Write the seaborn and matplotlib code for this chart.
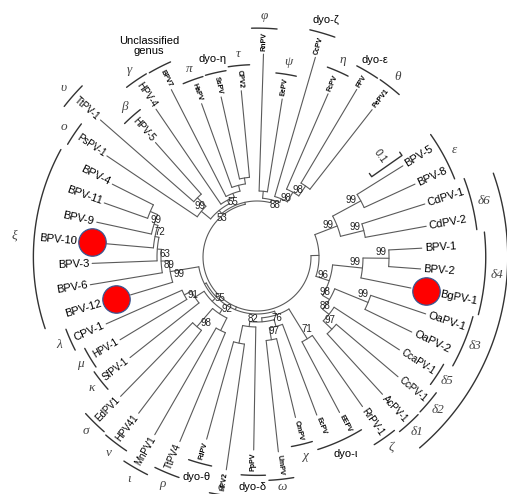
import numpy as np
import pandas as pd
import seaborn as sns
import matplotlib.pyplot as plt

# leaves in clockwise order, starting at BPV-5
leaf_names = ["BPV-5", "BPV-8", "CdPV-1", "CdPV-2", "BPV-1", "BPV-2", "BgPV-1",
              "OaPV-1", "OaPV-2", "CcaPV-1", "CcPV-1", "AcPV-1", "RrPV-1",
              "EEPV", "EcPV", "CmPV", "UmPV", "PpPV", "HPV2", "FdPV",
              "TtPV4", "MnPV1", "HPV41", "EdPV1", "SfPV-1", "HPV-1", "CPV-1",
              "BPV-12", "BPV-6", "BPV-3", "BPV-10", "BPV-9", "BPV-11", "BPV-4",
              "PsPV-1", "TtPV-1", "HPV-5", "HPV-4", "BPV7", "HaPV", "SsPV",
              "CPV2", "RnPV", "EePV", "CcPV", "FcPV", "FPV", "PePV1"]
# distance of each tip from the centre (px, 0.1 subst./site ~ 37 px)
leaf_tip = [172, 174, 176, 172, 165, 164, 157, 178, 172, 170, 185, 186, 183,
            176, 169, 165, 196, 193, 215, 189, 200, 205, 196, 195, 162, 160,
            165, 132, 169, 165, 151, 164, 162, 162, 181, 208, 153, 179, 188,
            163, 164, 167, 203, 160, 208, 178, 195, 187]
marked = ["BPV-10", "BPV-12", "BgPV-1"]

# clades: (first leaf, last leaf, node depth, bootstrap)
clades = [
    (0, 47, 54, ""),
    (0, 11, 62, ""), (0, 3, 86, "99"), (0, 1, 118, "99"), (2, 3, 110, "99"),
    (4, 11, 76, "96"), (4, 6, 106, "99"), (4, 5, 132, "99"), (7, 11, 84, "98"),
    (7, 8, 120, "99"), (9, 11, 92, "88"), (10, 11, 104, "97"),
    (12, 33, 57, ""), (12, 19, 61, ""), (12, 13, 96, "71"), (14, 19, 65, ""),
    (14, 16, 72, "76"), (15, 16, 84, "97"), (17, 19, 70, "82"), (18, 19, 88, ""),
    (20, 33, 59, ""), (20, 26, 63, "55"), (20, 23, 68, "92"), (20, 21, 82, ""),
    (22, 23, 92, "98"), (24, 26, 74, ""), (25, 26, 82, "91"),
    (27, 33, 88, "99"), (28, 33, 96, "89"), (29, 33, 100, "63"),
    (30, 33, 104, ""), (31, 33, 108, "72"), (32, 33, 116, "99"),
    (34, 47, 56, ""), (34, 41, 60, "53"), (34, 36, 72, ""), (35, 36, 84, "99"),
    (37, 41, 64, ""), (38, 41, 68, "55"), (39, 41, 74, ""), (40, 41, 80, ""),
    (42, 47, 59, ""), (42, 43, 66, ""), (44, 47, 63, "88"), (45, 47, 74, "98"),
    (46, 47, 86, "98"),
]

# genus brackets: (first leaf, last leaf, name)
genera = [(0, 1, "ε"), (2, 3, "δ6"), (4, 6, "δ4"), (7, 8, "δ3"), (9, 9, "δ5"),
          (10, 10, "δ2"), (11, 11, "δ1"), (12, 12, "ζ"), (13, 14, "dyo-ι"),
          (15, 15, "χ"), (16, 16, "ω"), (17, 17, "dyo-δ"), (18, 18, "α"),
          (19, 19, "dyo-θ"), (20, 20, "ρ"), (21, 21, "ι"), (22, 22, "ν"),
          (23, 23, "σ"), (24, 24, "κ"), (25, 25, "μ"), (26, 26, "λ"),
          (34, 34, "ο"), (35, 35, "υ"), (36, 36, "β"), (37, 37, "γ"),
          (38, 38, "Unclassified\ngenus"), (39, 39, "π"), (40, 40, "dyo-η"),
          (41, 41, "τ"), (42, 42, "φ"), (43, 43, "ψ"), (44, 44, "dyo-ζ"),
          (45, 45, "η"), (46, 46, "dyo-ε"), (47, 47, "θ")]
big_groups = [(2, 11, ""), (27, 33, "ξ")]

# label styles
large_names = {"BPV-5", "BPV-8", "CdPV-1", "CdPV-2", "BPV-1", "BPV-2", "BgPV-1",
               "OaPV-1", "OaPV-2", "CPV-1", "BPV-12", "BPV-6", "BPV-3",
               "BPV-10", "BPV-9", "BPV-11", "BPV-4"}
blob_names = {"EEPV", "EcPV", "CmPV", "UmPV", "PpPV", "HPV2", "FdPV",
              "BPV7", "HaPV", "SsPV", "CPV2", "RnPV", "EePV", "CcPV", "FcPV",
              "FPV", "PePV1"}

sns.set_theme(style="white")
plt.rcParams["font.family"] = ["Liberation Sans", "DejaVu Sans"]

W, H = 507, 494
cx, cy = 257, 257
n = len(leaf_names)
ang = 32.0 - np.arange(n) * 340.0 / (n - 1)


def xy(r, a):
    t = np.radians(a)
    return cx + r * np.cos(t), cy - r * np.sin(t)


# ---- tree topology from the leaf ranges
size = [hi - lo for lo, hi, _, _ in clades]


def smallest(lo, hi, skip=None):
    cands = [k for k, c in enumerate(clades)
             if c[0] <= lo and c[1] >= hi and k != skip]
    return min(cands, key=lambda k: size[k]) if cands else None


leaf_parent = [smallest(i, i) for i in range(n)]
clade_parent = [smallest(c[0], c[1], skip=k) for k, c in enumerate(clades)]

node_ang = {}
child_span = {}
for k in sorted(range(len(clades)), key=lambda k: size[k]):
    ch = [ang[i] for i in range(n) if leaf_parent[i] == k]
    ch += [node_ang[j] for j in range(len(clades)) if clade_parent[j] == k]
    child_span[k] = (min(ch), max(ch))
    node_ang[k] = (min(ch) + max(ch)) / 2

rows = []
seg = 0


def add_line(pts):
    global seg
    for x, y in pts:
        rows.append((seg, x, y))
    seg += 1


def arc_pts(r, a0, a1, m=40):
    return [xy(r, a) for a in np.linspace(a0, a1, m)]


for i in range(n):
    d0 = clades[leaf_parent[i]][2]
    add_line([xy(d0, ang[i]), xy(leaf_tip[i], ang[i])])
for k, c in enumerate(clades):
    a0, a1 = child_span[k]
    add_line(arc_pts(c[2], a0, a1, max(4, int((a1 - a0) * 2))))
    if clade_parent[k] is not None:
        add_line([xy(clades[clade_parent[k]][2], node_ang[k]),
                  xy(c[2], node_ang[k])])
tree_df = pd.DataFrame(rows, columns=["seg", "x", "y"])

fig = plt.figure(figsize=(W / 100, H / 100), dpi=100)
ax = fig.add_axes([0, 0, 1, 1])
sns.lineplot(data=tree_df, x="x", y="y", units="seg", estimator=None,
             sort=False, color="#5a5a5a", lw=0.8, ax=ax, legend=False)

# bootstrap values
for k, c in enumerate(clades):
    if c[3]:
        x, y = xy(c[2] - 8, node_ang[k] + 3)
        ax.text(x, y, c[3], fontsize=7, ha="center", va="center",
                color="#222222")

# leaf labels
renderer = fig.canvas.get_renderer()
outer = []
dots = []
for i, name in enumerate(leaf_names):
    a = (ang[i] + 180) % 360 - 180
    off = 3
    if name in marked:
        dots.append(xy(leaf_tip[i] + 15, ang[i]))
        off = 30
    x, y = xy(leaf_tip[i] + off, ang[i])
    if -90 < a <= 90:
        rot, ha = a, "left"
    else:
        rot, ha = a + 180, "right"
    if name in large_names:
        kw = dict(fontsize=8)
    elif name in blob_names:
        kw = dict(fontsize=5, fontweight="heavy")
    else:
        kw = dict(fontsize=7)
    t = ax.text(x, y, name, rotation=rot, rotation_mode="anchor", ha=ha,
                va="center", color="black", **kw)
    w, h, d = renderer.get_text_width_height_descent(
        name, t.get_fontproperties(), ismath=False)
    outer.append(leaf_tip[i] + off + w)

dot_df = pd.DataFrame(dots, columns=["x", "y"])
sns.scatterplot(data=dot_df, x="x", y="y", s=390, color="#ff0000",
                edgecolor="#3a5590", linewidth=0.9, ax=ax, zorder=5,
                legend=False)

# genus brackets and names
rows = []
seg = 0
greek_r = {}
for lo, hi, name in genera:
    r = max(outer[lo:hi + 1]) + 4
    a0, a1 = ang[hi] - 3.2, ang[lo] + 3.2
    add_line(arc_pts(r, a0, a1, 20))
    am = (a0 + a1) / 2
    if name.startswith("Uncl"):
        gr = r + 24
        kw = dict(fontsize=8, color="black")
    elif name.startswith("dyo"):
        gr = r + 14
        kw = dict(fontsize=8, color="black")
    else:
        gr = r + 12
        kw = dict(fontsize=9.5, color="#444444", family="Liberation Serif",
                  style="italic")
    for i in range(lo, hi + 1):
        greek_r[i] = gr
    x, y = xy(gr, am)
    y = min(y, H - 7)
    ax.text(x, y, name, ha="center", va="center", linespacing=1.0, **kw)

for lo, hi, name in big_groups:
    inner = [greek_r.get(i, outer[i]) for i in range(lo, hi + 1)]
    r = max(inner) + (10 if not name else 5)
    a0, a1 = ang[hi] - 2.0, ang[lo] + 2.0
    add_line(arc_pts(r, a0, a1, 60))
    if name:
        x, y = xy(r + 20, (a0 + a1) / 2)
        ax.text(x, y, name, ha="center", va="center", fontsize=9.5,
                color="#444444", family="Liberation Serif", style="italic")

# scale bar 0.1
sa, r0, r1 = 35.0, 140, 177
tick = 4
p0, p1 = xy(r0, sa), xy(r1, sa)
nx, ny = -np.sin(np.radians(sa)) * tick, -np.cos(np.radians(sa)) * tick
add_line([(p0[0] + nx, p0[1] + ny), p0, p1, (p1[0] + nx, p1[1] + ny)])
mx, my = xy((r0 + r1) / 2, sa)
ax.text(mx + nx * 3, my + ny * 3, "0.1", rotation=sa - 90, ha="center",
        va="center", fontsize=7.5, rotation_mode="anchor")

bracket_df = pd.DataFrame(rows, columns=["seg", "x", "y"])
sns.lineplot(data=bracket_df, x="x", y="y", units="seg", estimator=None,
             sort=False, color="#333333", lw=1.0, ax=ax, legend=False)

ax.set_xlim(0, W)
ax.set_ylim(H, 0)
ax.set_axis_off()
fig.savefig("out.png", dpi=100)
